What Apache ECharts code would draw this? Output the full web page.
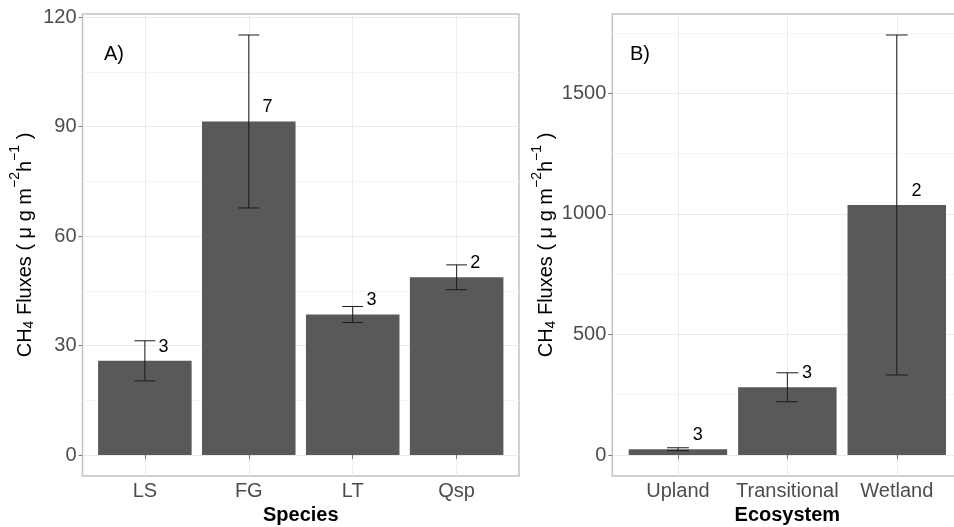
<!DOCTYPE html>
<html>
<head>
<meta charset="utf-8">
<script src="https://cdn.jsdelivr.net/npm/echarts@6/dist/echarts.min.js"></script>
<style>
  html, body { margin: 0; padding: 0; background: #ffffff; }
  #chart { width: 954px; height: 527px; }
</style>
</head>
<body>
<div id="chart"></div>
<script>
// Panel A: CH4 flux by tree species (mean, standard error, sample size)
const species = ['LS', 'FG', 'LT', 'Qsp'];
const speciesMean = [25.8, 91.4, 38.5, 48.7];
const speciesErr = [5.5, 23.7, 2.2, 3.4];
const speciesN = [3, 7, 3, 2];
const speciesTicks = [0, 30, 60, 90, 120];
const speciesMinorTicks = [15, 45, 75, 105];

// Panel B: CH4 flux by ecosystem
const ecosystems = ['Upland', 'Transitional', 'Wetland'];
const ecoMean = [24, 281, 1037];
const ecoErr = [6, 60, 705];
const ecoN = [3, 3, 2];
const ecoTicks = [0, 500, 1000, 1500];
const ecoMinorTicks = [250, 750, 1250, 1750];

const FONT = '"Liberation Sans", Arial, sans-serif';
const yTitle = 'CH{sub|4} Fluxes ( \u03bc g m{sup|\u22122}h{sup|\u22121} )';

// ggplot-style continuous range: data span padded by 5% on both sides
function yRange(means, errs) {
  const hi = Math.max(...means.map((m, i) => m + errs[i]));
  const lo = 0;
  const pad = (hi - lo) * 0.05;
  return [lo - pad, hi + pad];
}

function rows(means, errs, ns) {
  return means.map((m, i) => [i + 1, m, errs[i], ns[i]]);
}

function renderBar(params, api) {
  const x = api.value(0), m = api.value(1), e = api.value(2), n = api.value(3);
  const tl = api.coord([x - 0.45, m]);
  const br = api.coord([x + 0.45, 0]);
  const top = api.coord([x, m + e]);
  const bot = api.coord([x, m - e]);
  const capL = api.coord([x - 0.1, m])[0];
  const capR = api.coord([x + 0.1, m])[0];
  const lab = api.coord([x + 0.18, m]);
  const ink = '#1a1a1a';
  return {
    type: 'group',
    children: [
      { type: 'rect', shape: { x: tl[0], y: tl[1], width: br[0] - tl[0], height: br[1] - tl[1] },
        style: { fill: '#595959' } },
      { type: 'line', shape: { x1: top[0], y1: top[1], x2: bot[0], y2: bot[1] },
        style: { stroke: ink, lineWidth: 1 } },
      { type: 'line', shape: { x1: capL, y1: top[1], x2: capR, y2: top[1] },
        style: { stroke: ink, lineWidth: 1 } },
      { type: 'line', shape: { x1: capL, y1: bot[1], x2: capR, y2: bot[1] },
        style: { stroke: ink, lineWidth: 1 } },
      { type: 'text', x: lab[0], y: lab[1] - 14,
        style: { text: String(n), fill: '#000', fontSize: 18, fontFamily: FONT,
                 align: 'center', verticalAlign: 'middle' } }
    ]
  };
}

function xAxisFor(gridIndex, cats, title) {
  const pos = cats.map((c, i) => i + 1);
  return {
    type: 'value', gridIndex: gridIndex, min: 0.4, max: cats.length + 0.6,
    name: title, nameLocation: 'middle', nameGap: 23,
    nameTextStyle: { fontSize: 20, fontWeight: 'bold', color: '#000', fontFamily: FONT },
    axisLine: { show: false },
    axisTick: { show: true, customValues: pos, length: 4, lineStyle: { color: '#7a7a7a' } },
    axisLabel: { customValues: pos, formatter: v => cats[Math.round(v) - 1] || '',
                 fontSize: 20, color: '#4d4d4d', fontFamily: FONT, margin: 5 },
    splitLine: { show: true, lineStyle: { color: '#ebebeb', width: 1 } }
  };
}

function yAxesFor(gridIndex, range, ticks, minor) {
  return [
    {
      type: 'value', gridIndex: gridIndex, position: 'left', min: range[0], max: range[1],
      axisLine: { show: false },
      axisLabel: { show: false },
      axisTick: { show: false, customValues: minor },
      splitLine: { show: true, lineStyle: { color: '#f5f5f5', width: 1 } }
    },
    {
      type: 'value', gridIndex: gridIndex, position: 'left', min: range[0], max: range[1],
      name: yTitle, nameLocation: 'middle', nameRotate: 90, nameGap: 40,
      nameTextStyle: {
        fontSize: 20, color: '#000', fontFamily: FONT,
        rich: {
          sub: { fontSize: 14, fontFamily: FONT, color: '#000', padding: [8, 0, 0, 0] },
          sup: { fontSize: 14, fontFamily: FONT, color: '#000', padding: [0, 0, 20, 0] }
        }
      },
      axisLine: { show: false },
      axisTick: { show: true, customValues: ticks, length: 4, lineStyle: { color: '#7a7a7a' } },
      axisLabel: { customValues: ticks, formatter: v => String(v),
                   fontSize: 20, color: '#4d4d4d', fontFamily: FONT, margin: 6 },
      splitLine: { show: true, lineStyle: { color: '#ebebeb', width: 1 } }
    }
  ];
}

const chart = echarts.init(document.getElementById('chart'), null, { renderer: 'canvas' });

const rangeA = yRange(speciesMean, speciesErr);
const rangeB = yRange(ecoMean, ecoErr);

chart.setOption({
  animation: false,
  backgroundColor: '#ffffff',
  title: [
    { text: 'A)', left: 104, top: 44, padding: 0,
      textStyle: { fontSize: 20, fontWeight: 'normal', color: '#000', fontFamily: FONT } },
    { text: 'B)', left: 630, top: 44, padding: 0,
      textStyle: { fontSize: 20, fontWeight: 'normal', color: '#000', fontFamily: FONT } }
  ],
  grid: [
    { left: 82.5, right: 435, top: 14, bottom: 51, show: true,
      borderColor: '#c2c2c2', borderWidth: 1.5, backgroundColor: 'transparent',
      outerBoundsMode: 'none', containLabel: false },
    { left: 612.3, right: -8.4, top: 14, bottom: 51, show: true,
      borderColor: '#c2c2c2', borderWidth: 1.5, backgroundColor: 'transparent',
      outerBoundsMode: 'none', containLabel: false }
  ],
  xAxis: [
    xAxisFor(0, species, 'Species'),
    xAxisFor(1, ecosystems, 'Ecosystem')
  ],
  yAxis: [
    ...yAxesFor(0, rangeA, speciesTicks, speciesMinorTicks),
    ...yAxesFor(1, rangeB, ecoTicks, ecoMinorTicks)
  ],
  series: [
    { type: 'custom', xAxisIndex: 0, yAxisIndex: 1, renderItem: renderBar,
      data: rows(speciesMean, speciesErr, speciesN), clip: false },
    { type: 'custom', xAxisIndex: 1, yAxisIndex: 3, renderItem: renderBar,
      data: rows(ecoMean, ecoErr, ecoN), clip: false }
  ]
});
</script>
</body>
</html>
